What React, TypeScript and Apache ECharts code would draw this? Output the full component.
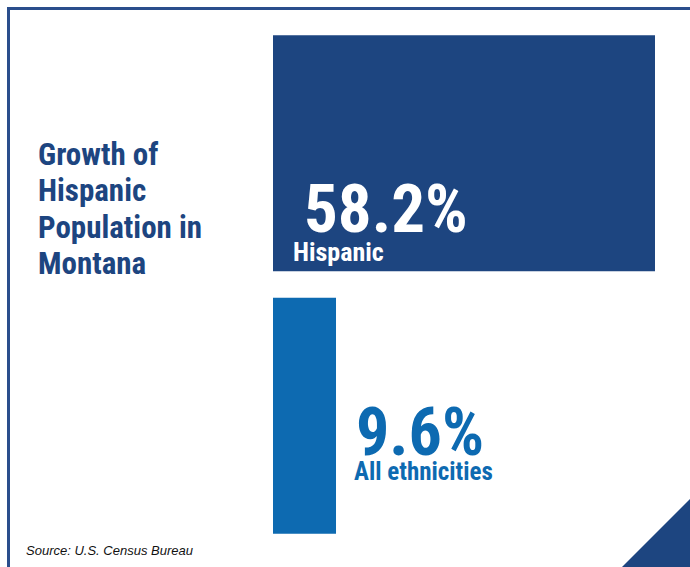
import React, { useEffect, useRef } from "react";
import * as echarts from "echarts";

const categories = ["Hispanic", "All ethnicities"];
const growthValues = [58.2, 9.6];
const titleLines = ["Growth of", "Hispanic", "Population in", "Montana"];
const sourceText = "Source: U.S. Census Bureau";

const NAVY = "#1d4580";
const BLUE = "#0d6ab1";
const FONT = "'Liberation Sans Narrow', 'Roboto Condensed', 'Liberation Sans', sans-serif";

export default function App() {
  const ref = useRef<HTMLDivElement>(null);
  useEffect(() => {
    if (!ref.current) return;
    const chart = echarts.init(ref.current, null, { renderer: "svg" });
    const maxV = Math.max(...growthValues);
    const itemStyles = [
      {
        color: NAVY,
        label: {
          position: [20, 145],
          rich: {
            v: { fontSize: 67, lineHeight: 57, fontWeight: "bold", fontFamily: FONT, color: "#ffffff", padding: [0, 0, 0, 11] },
            n: { fontSize: 26, lineHeight: 30, fontWeight: "bold", fontFamily: FONT, color: "#ffffff" },
          },
        },
      },
      {
        color: BLUE,
        label: {
          position: [81, 111],
          rich: {
            v: { fontSize: 66, lineHeight: 48, fontWeight: "bold", fontFamily: FONT, color: BLUE, padding: [0, 0, 0, 2] },
            n: { fontSize: 25, lineHeight: 30, fontWeight: "bold", fontFamily: FONT, color: BLUE },
          },
        },
      },
    ];
    const data = growthValues.map((v, i) => ({
      value: v,
      name: categories[i],
      itemStyle: { color: itemStyles[i].color },
      label: {
        show: true,
        position: itemStyles[i].label.position,
        align: "left",
        verticalAlign: "top",
        rich: itemStyles[i].label.rich,
        formatter: (p: any) => `{v|${p.value}%}\n{n|${p.name}}`,
      },
    }));
    chart.setOption({
      animation: false,
      backgroundColor: "#ffffff",
      title: {
        text: titleLines.join("\n"),
        left: 38,
        top: 136,
        padding: 0,
        textStyle: {
          fontFamily: FONT,
          fontWeight: "bold",
          fontSize: 31,
          lineHeight: 36.5,
          color: NAVY,
        },
      },
      grid: { left: 273, width: 382, top: 22, height: 525 },
      xAxis: { type: "value", min: 0, max: maxV, show: false },
      yAxis: { type: "category", data: categories, inverse: true, show: false },
      series: [
        {
          type: "bar",
          data,
          barWidth: 236,
        },
      ],
      graphic: [
        { type: "rect", shape: { x: 7, y: 7, width: 683, height: 3 }, style: { fill: "#2a4e8c" } },
        { type: "rect", shape: { x: 7, y: 7, width: 3, height: 560 }, style: { fill: "#2a4e8c" } },
        {
          type: "polygon",
          shape: { points: [[690, 499], [622, 567], [690, 567]] },
          style: { fill: NAVY },
        },
        {
          type: "text",
          left: 26,
          top: 544,
          style: {
            text: sourceText,
            fontFamily: "'Liberation Sans', sans-serif",
            fontStyle: "italic",
            fontSize: 13,
            fill: "#111111",
          },
        },
      ],
    });
    return () => chart.dispose();
  }, []);
  return (
    <div
      ref={ref}
      style={{ position: "absolute", left: 0, top: 0, width: 690, height: 567 }}
    />
  );
}
